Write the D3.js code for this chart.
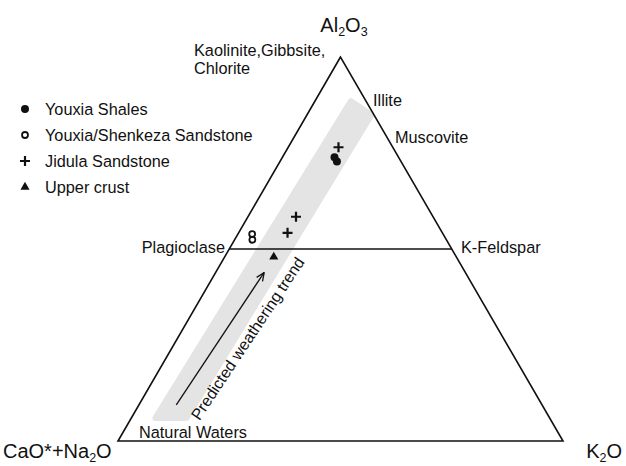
<!DOCTYPE html>
<html>
<head>
<meta charset="utf-8">
<script src="https://cdn.jsdelivr.net/npm/d3@7"></script>
<style>
  body { margin: 0; background: #fff; }
  text { font-family: "Liberation Sans", Arial, sans-serif; fill: #111; }
</style>
</head>
<body>
<svg></svg>
<script>
// compositions in % : [Al2O3, CaO*+Na2O, K2O]
let youxiaShales = [[73.9, 14.4, 11.7], [72.8, 14.4, 12.8]],
sandstones = [[53.9, 42.9, 3.2], [52.4, 43.6, 4.0]],
jidula = [[76.5, 12.2, 11.3], [58.4, 30.8, 10.8], [54.2, 34.8, 11.0]],
upperCrust = [[48.2, 40.9, 10.9]],
trendBand = [[6.0, 88.6, 5.4], [88.5, 3.4, 8.1], [84.9, 0.6, 14.5], [6.0, 81.6, 12.4]],
trendArrow = [[9.4, 82.2, 8.4], [43.9, 45.2, 10.9]],
feldsparJoin = [[50, 50, 0], [50, 0, 50]];

let legendItems = ["Youxia Shales", "Youxia/Shenkeza Sandstone", "Jidula Sandstone", "Upper crust"];

let width = 626,
height = 466;

let svg = d3.select("svg")
  .attr("width", width)
  .attr("height", height);

// ternary frame: x from K + A/2, y from A
let xScale = d3.scaleLinear().domain([0, 1]).range([118, 563]);
let yScale = d3.scaleLinear().domain([0, 1]).range([441, 57]);

function px(d){
  let s = d[0] + d[1] + d[2];
  return xScale((d[2] + d[0] / 2) / s);
}
function py(d){
  let s = d[0] + d[1] + d[2];
  return yScale(d[0] / s);
}

// grey weathering trend band
svg.append("path")
  .attr("d", d3.line().x(px).y(py)(trendBand) + "Z")
  .style("fill", "#e4e4e4")
  .style("stroke", "#e4e4e4")
  .style("stroke-width", 6)
  .style("stroke-linejoin", "round");

// triangle outline
let corners = [[100, 0, 0], [0, 100, 0], [0, 0, 100]];
svg.append("path")
  .attr("d", d3.line().x(px).y(py)(corners) + "Z")
  .style("fill", "none")
  .style("stroke", "#111")
  .style("stroke-width", 1.6);

svg.append("path")
  .attr("d", d3.line().x(px).y(py)(feldsparJoin))
  .style("stroke", "#111")
  .style("stroke-width", 1.6);

// arrow
let a0 = trendArrow[0], a1 = trendArrow[1];
let ax0 = px(a0), ay0 = py(a0), ax1 = px(a1), ay1 = py(a1);
let ang = Math.atan2(ay1 - ay0, ax1 - ax0);
svg.append("line")
  .attr("x1", ax0).attr("y1", ay0)
  .attr("x2", ax1).attr("y2", ay1)
  .style("stroke", "#111")
  .style("stroke-width", 1.3);
[-0.4, 0.4].forEach(o => {
  svg.append("line")
    .attr("x1", ax1).attr("y1", ay1)
    .attr("x2", ax1 - 9 * Math.cos(ang + o))
    .attr("y2", ay1 - 9 * Math.sin(ang + o))
    .style("stroke", "#111")
    .style("stroke-width", 1.3);
});

let deg = ang * 180 / Math.PI;
let mx = (ax0 + ax1) / 2 + 32, my = (ay0 + ay1) / 2 + 3;
svg.append("text")
  .attr("transform", `translate(${mx}, ${my}) rotate(${deg})`)
  .attr("text-anchor", "middle")
  .style("font-size", "16px")
  .text("Predicted weathering trend");

// markers
let sym = {
  shale: d3.symbol().type(d3.symbolCircle).size(50),
  sand: d3.symbol().type(d3.symbolCircle).size(28),
  tri: d3.symbol().type(d3.symbolTriangle).size(36)
};

function drawPlus(g, x, y){
  g.append("path")
    .attr("d", `M${x - 5},${y}H${x + 5}M${x},${y - 5}V${y + 5}`)
    .style("stroke", "#111")
    .style("stroke-width", 2.2);
}
function drawMark(g, kind, x, y){
  if (kind === "plus") { drawPlus(g, x, y); return; }
  let p = g.append("path")
    .attr("transform", `translate(${x}, ${y})`)
    .attr("d", sym[kind]());
  if (kind === "sand") p.style("fill", "none").style("stroke", "#111").style("stroke-width", 1.8);
  else p.style("fill", "#111");
}

let pts = svg.append("g");
youxiaShales.forEach(d => drawMark(pts, "shale", px(d), py(d)));
sandstones.forEach(d => drawMark(pts, "sand", px(d), py(d)));
jidula.forEach(d => drawMark(pts, "plus", px(d), py(d)));
upperCrust.forEach(d => drawMark(pts, "tri", px(d), py(d) + 1));

// legend
let kinds = ["shale", "sand", "plus", "tri"];
let lg = svg.append("g");
legendItems.forEach((t, i) => {
  let y = 109 + i * 26;
  drawMark(lg, kinds[i], 25, y);
  lg.append("text")
    .attr("x", 45).attr("y", y + 6)
    .style("font-size", "16.3px")
    .text(t);
});

// labels
function label(x, y, t, anchor){
  return svg.append("text")
    .attr("x", x).attr("y", y)
    .attr("text-anchor", anchor || "start")
    .style("font-size", "16.3px")
    .text(t);
}
label(194, 56, "Kaolinite,Gibbsite,");
label(194, 74, "Chlorite");
label(373, 106, "Illite");
label(395, 143, "Muscovite");
label(225, 253, "Plagioclase", "end");
label(461, 253, "K-Feldspar");
label(139, 438, "Natural Waters");

function chem(x, y, parts, anchor){
  let t = svg.append("text")
    .attr("x", x).attr("y", y)
    .attr("text-anchor", anchor || "start")
    .style("font-size", "20px");
  parts.forEach(p => {
    if (p[1]) t.append("tspan").attr("dy", 4).style("font-size", "12.5px").text(p[0]);
    else t.append("tspan").attr("dy", p[2] ? -4 : 0).text(p[0]);
  });
}
chem(344, 32, [["Al"], ["2", true], ["O", false, true], ["3", true]], "middle");
chem(3, 458, [["CaO*+Na"], ["2", true], ["O", false, true]]);
chem(622, 458, [["K"], ["2", true], ["O", false, true]], "end");
</script>
</body>
</html>
